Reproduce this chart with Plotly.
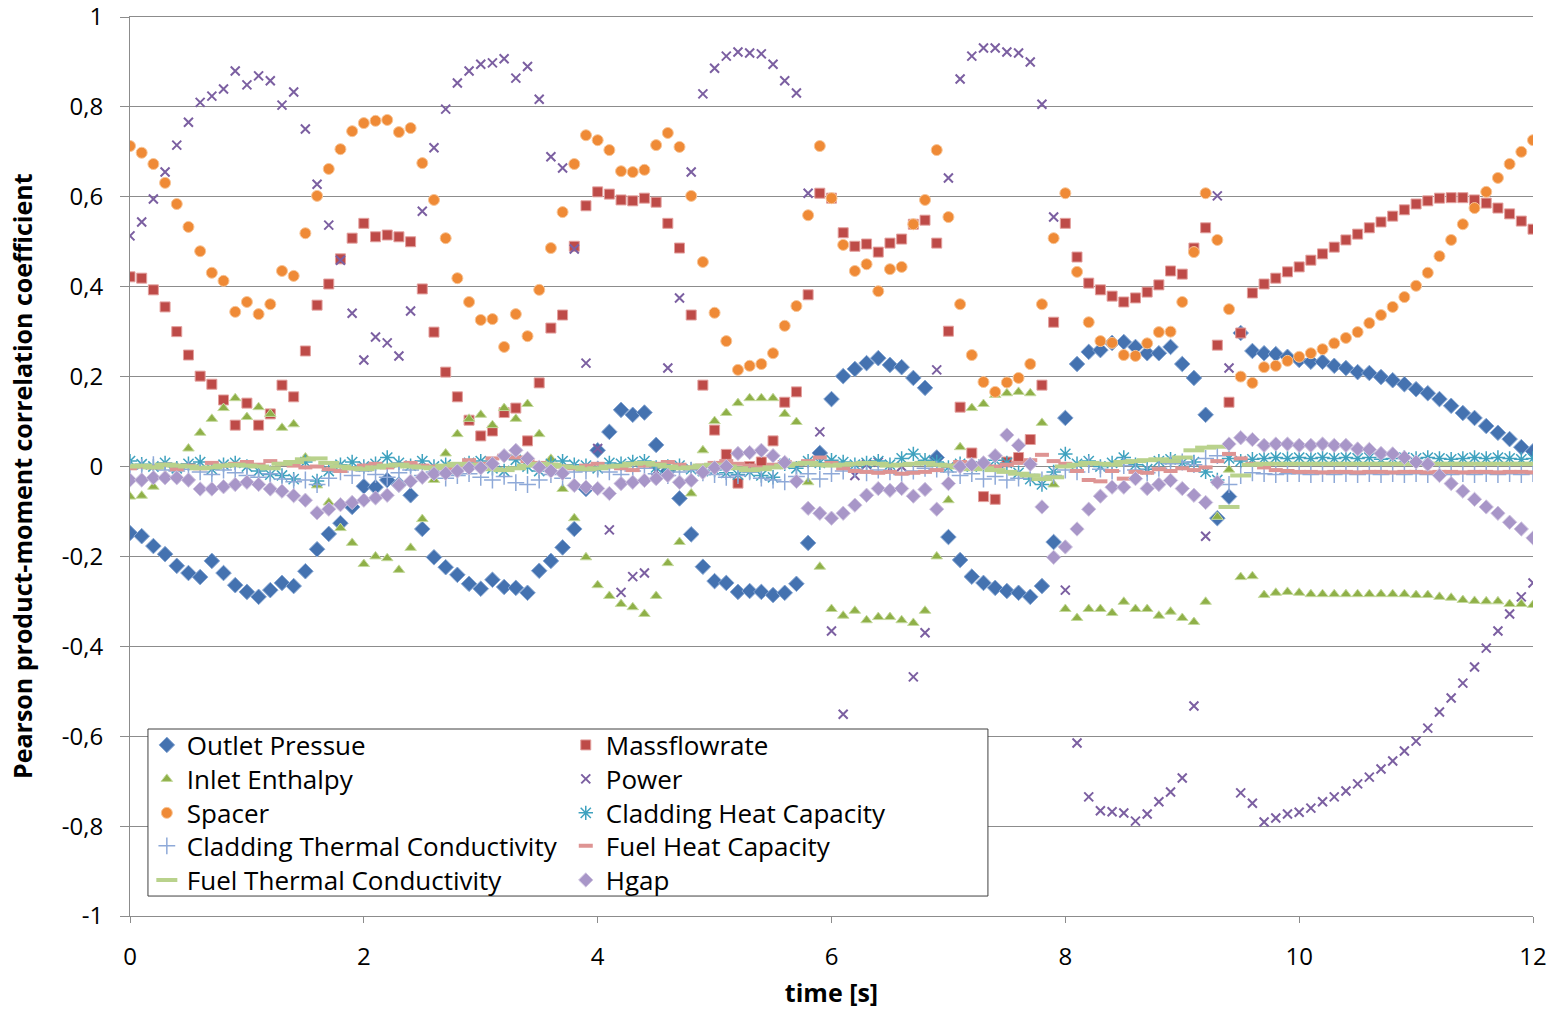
import plotly.graph_objects as go

# time axis: 0 .. 12 s in 0.1 s steps
time_s = [round(i * 0.1, 1) for i in range(121)]

outlet_pressure = [
    -0.148, -0.155, -0.177, -0.195, -0.221, -0.237, -0.246, -0.210, -0.237, -0.264,
    -0.279, -0.290, -0.275, -0.259, -0.266, -0.233, -0.184, -0.150, -0.126, -0.090,
    -0.044, -0.046, -0.030, -0.040, -0.064, -0.139, -0.202, -0.224, -0.241, -0.261,
    -0.272, -0.252, -0.268, -0.270, -0.281, -0.232, -0.210, -0.180, -0.139, -0.050,
    0.036, 0.077, 0.126, 0.115, 0.120, 0.048, -0.010, -0.071, -0.151, -0.223,
    -0.255, -0.259, -0.279, -0.277, -0.279, -0.286, -0.281, -0.261, -0.170, 0.030,
    0.150, 0.201, 0.217, 0.230, 0.241, 0.226, 0.221, 0.197, 0.175, 0.020,
    -0.157, -0.208, -0.245, -0.259, -0.270, -0.277, -0.281, -0.290, -0.266, -0.168,
    0.108, 0.228, 0.255, 0.259, 0.275, 0.277, 0.266, 0.252, 0.252, 0.266,
    0.228, 0.197, 0.115, -0.115, -0.067, 0.297, 0.257, 0.252, 0.250, 0.244,
    0.237, 0.233, 0.233, 0.224, 0.219, 0.210, 0.208, 0.199, 0.192, 0.183,
    0.172, 0.163, 0.150, 0.135, 0.119, 0.108, 0.090, 0.075, 0.061, 0.043, 0.034,
]

massflowrate = [
    0.422, 0.419, 0.393, 0.355, 0.300, 0.248, 0.201, 0.183, 0.148, 0.092,
    0.141, 0.092, 0.117, 0.181, 0.155, 0.257, 0.359, 0.406, 0.462, 0.508,
    0.541, 0.511, 0.515, 0.511, 0.500, 0.395, 0.299, 0.210, 0.155, 0.103,
    0.068, 0.079, 0.120, 0.130, 0.057, 0.186, 0.308, 0.337, 0.490, 0.580,
    0.611, 0.606, 0.593, 0.591, 0.597, 0.588, 0.541, 0.486, 0.337, 0.181,
    0.081, 0.027, -0.037, 0.000, 0.010, 0.057, 0.143, 0.166, 0.382, 0.608,
    0.597, 0.520, 0.490, 0.495, 0.477, 0.497, 0.506, 0.539, 0.548, 0.497,
    0.301, 0.132, 0.030, -0.067, -0.073, 0.010, 0.020, 0.060, 0.181, 0.321,
    0.541, 0.466, 0.408, 0.393, 0.379, 0.366, 0.375, 0.388, 0.404, 0.435,
    0.428, 0.486, 0.531, 0.270, 0.143, 0.297, 0.386, 0.406, 0.419, 0.433,
    0.444, 0.459, 0.473, 0.488, 0.504, 0.517, 0.531, 0.544, 0.557, 0.571,
    0.584, 0.591, 0.597, 0.598, 0.598, 0.593, 0.586, 0.575, 0.562, 0.546, 0.528,
]

inlet_enthalpy = [
    -0.067, -0.065, -0.045, -0.020, 0.000, 0.040, 0.075, 0.106, 0.130, 0.152,
    0.110, 0.132, 0.117, 0.086, 0.094, 0.020, -0.042, -0.080, -0.137, -0.170,
    -0.217, -0.200, -0.204, -0.230, -0.181, -0.117, -0.030, 0.029, 0.072, 0.106,
    0.115, 0.092, 0.130, 0.106, 0.139, 0.072, 0.017, -0.050, -0.115, -0.202,
    -0.264, -0.288, -0.306, -0.313, -0.328, -0.288, -0.215, -0.168, -0.060, 0.036,
    0.101, 0.119, 0.141, 0.152, 0.152, 0.152, 0.117, 0.099, -0.035, -0.223,
    -0.317, -0.332, -0.321, -0.342, -0.335, -0.335, -0.342, -0.348, -0.321, -0.200,
    -0.075, 0.043, 0.130, 0.139, 0.159, 0.163, 0.166, 0.163, 0.097, -0.040,
    -0.317, -0.337, -0.317, -0.317, -0.326, -0.301, -0.317, -0.317, -0.332, -0.323,
    -0.337, -0.346, -0.301, -0.112, -0.007, -0.246, -0.244, -0.286, -0.281, -0.279,
    -0.281, -0.284, -0.284, -0.284, -0.284, -0.284, -0.284, -0.284, -0.284, -0.284,
    -0.286, -0.286, -0.290, -0.292, -0.297, -0.299, -0.300, -0.300, -0.306, -0.306, -0.308,
]

power = [
    0.513, 0.544, 0.595, 0.655, 0.715, 0.766, 0.810, 0.824, 0.840, 0.880,
    0.849, 0.869, 0.858, 0.804, 0.833, 0.751, 0.628, 0.537, 0.459, 0.341,
    0.237, 0.288, 0.275, 0.246, 0.346, 0.568, 0.709, 0.795, 0.853, 0.880,
    0.895, 0.898, 0.907, 0.864, 0.890, 0.817, 0.689, 0.664, 0.484, 0.230,
    0.040, -0.141, -0.280, -0.245, -0.237, -0.010, 0.219, 0.375, 0.655, 0.829,
    0.886, 0.913, 0.922, 0.920, 0.918, 0.895, 0.858, 0.831, 0.608, 0.077,
    -0.366, -0.551, -0.020, 0.005, 0.010, -0.005, 0.000, -0.468, -0.370, 0.215,
    0.642, 0.862, 0.913, 0.931, 0.931, 0.922, 0.920, 0.900, 0.806, 0.555,
    -0.275, -0.615, -0.735, -0.766, -0.768, -0.771, -0.789, -0.773, -0.746, -0.724,
    -0.693, -0.533, -0.155, 0.602, 0.219, -0.726, -0.749, -0.791, -0.782, -0.773,
    -0.769, -0.760, -0.746, -0.735, -0.722, -0.706, -0.691, -0.673, -0.655, -0.633,
    -0.611, -0.582, -0.546, -0.515, -0.482, -0.446, -0.404, -0.366, -0.328, -0.290, -0.259,
]

spacer = [
    0.713, 0.698, 0.673, 0.631, 0.584, 0.533, 0.479, 0.431, 0.413, 0.344,
    0.366, 0.339, 0.361, 0.435, 0.424, 0.519, 0.602, 0.662, 0.706, 0.746,
    0.764, 0.769, 0.771, 0.744, 0.753, 0.675, 0.593, 0.508, 0.419, 0.366,
    0.326, 0.328, 0.266, 0.339, 0.290, 0.393, 0.486, 0.566, 0.673, 0.737,
    0.726, 0.704, 0.657, 0.655, 0.660, 0.715, 0.742, 0.711, 0.602, 0.455,
    0.342, 0.279, 0.215, 0.224, 0.228, 0.252, 0.313, 0.357, 0.559, 0.713,
    0.597, 0.493, 0.435, 0.450, 0.390, 0.439, 0.444, 0.539, 0.593, 0.704,
    0.555, 0.361, 0.248, 0.188, 0.166, 0.187, 0.197, 0.228, 0.361, 0.508,
    0.608, 0.433, 0.321, 0.279, 0.275, 0.248, 0.246, 0.274, 0.299, 0.300,
    0.366, 0.477, 0.608, 0.504, 0.350, 0.200, 0.186, 0.221, 0.224, 0.235,
    0.244, 0.252, 0.261, 0.274, 0.286, 0.299, 0.319, 0.337, 0.355, 0.377,
    0.402, 0.431, 0.468, 0.504, 0.539, 0.575, 0.611, 0.642, 0.673, 0.700, 0.726,
]

cladding_heat_capacity = [
    0.012, 0.005, 0.000, 0.008, -0.004, 0.006, 0.010, -0.006, 0.004, 0.008,
    0.000, -0.010, -0.018, -0.020, -0.028, 0.010, -0.032, -0.010, 0.004, 0.010,
    0.000, 0.006, 0.020, 0.008, 0.002, 0.012, 0.000, 0.004, -0.006, 0.008,
    0.012, -0.004, -0.010, 0.015, 0.000, -0.010, 0.006, 0.012, 0.004, 0.002,
    -0.004, 0.008, 0.006, 0.010, 0.012, -0.002, 0.000, 0.002, -0.006, -0.010,
    -0.008, -0.014, -0.018, -0.012, -0.020, -0.024, 0.006, -0.004, 0.012, 0.008,
    0.014, 0.010, 0.004, 0.008, 0.012, 0.004, 0.018, 0.028, 0.014, 0.010,
    -0.002, 0.006, 0.000, 0.004, 0.014, 0.008, -0.014, -0.028, -0.040, -0.012,
    0.028, 0.006, 0.012, 0.000, 0.008, 0.020, 0.004, -0.006, 0.012, 0.016,
    0.008, 0.010, -0.012, -0.030, 0.018, 0.012, 0.016, 0.018, 0.020, 0.018,
    0.020, 0.018, 0.020, 0.018, 0.020, 0.018, 0.020, 0.016, 0.018, 0.020,
    0.018, 0.020, 0.018, 0.016, 0.018, 0.020, 0.018, 0.020, 0.018, 0.016, 0.018,
]

cladding_thermal_conductivity = [
    -0.005, -0.002, 0.004, -0.008, -0.010, -0.006, -0.012, -0.018, -0.008, -0.014,
    -0.020, -0.024, -0.016, -0.028, -0.034, -0.030, -0.040, -0.026, -0.012, -0.020,
    -0.010, -0.018, -0.024, -0.014, -0.008, -0.020, -0.012, -0.026, -0.020, -0.016,
    -0.024, -0.030, -0.022, -0.036, -0.040, -0.030, -0.018, -0.026, -0.012, -0.010,
    -0.006, -0.012, -0.018, -0.010, -0.004, -0.016, -0.020, -0.012, -0.008, -0.014,
    -0.018, -0.024, -0.020, -0.012, -0.026, -0.030, -0.034, -0.022, -0.016, -0.028,
    -0.016, -0.010, -0.006, -0.014, -0.008, -0.012, -0.018, -0.010, -0.004, -0.006,
    -0.012, -0.020, -0.016, -0.028, -0.022, -0.030, -0.026, -0.018, -0.030, -0.020,
    -0.008, -0.012, 0.004, -0.006, -0.010, 0.002, -0.008, -0.014, -0.004, 0.006,
    0.010, 0.004, 0.018, 0.024, -0.040, -0.020, -0.014, -0.016, -0.018, -0.016,
    -0.016, -0.018, -0.016, -0.018, -0.016, -0.018, -0.016, -0.018, -0.016, -0.018,
    -0.016, -0.018, -0.016, -0.018, -0.016, -0.018, -0.016, -0.018, -0.016, -0.018, -0.016,
]

fuel_heat_capacity = [
    -0.004, 0.000, -0.002, 0.004, -0.006, 0.002, -0.004, 0.008, 0.002, 0.006,
    0.010, 0.004, 0.012, 0.006, 0.002, -0.002, 0.000, -0.006, -0.010, -0.004,
    0.002, 0.006, -0.002, 0.004, 0.008, 0.002, 0.000, -0.004, 0.002, 0.014,
    0.006, 0.018, 0.024, 0.020, 0.012, 0.008, 0.004, 0.000, -0.004, 0.002,
    0.006, 0.000, -0.004, -0.008, 0.002, 0.006, 0.010, 0.004, -0.002, 0.002,
    0.008, 0.012, 0.006, 0.002, -0.002, 0.004, 0.010, 0.006, 0.012, 0.020,
    0.008, -0.004, -0.010, -0.012, -0.014, -0.012, -0.016, -0.014, -0.012, -0.008,
    0.002, 0.010, 0.006, 0.002, 0.000, 0.004, 0.008, 0.014, 0.026, 0.012,
    0.006, -0.010, -0.030, -0.033, -0.010, -0.027, -0.012, -0.014, -0.006, -0.010,
    -0.004, -0.008, -0.002, 0.012, 0.028, 0.018, 0.006, -0.002, -0.008, -0.010,
    -0.012, -0.012, -0.013, -0.012, -0.012, -0.013, -0.012, -0.012, -0.013, -0.012,
    -0.012, -0.013, -0.012, -0.012, -0.013, -0.012, -0.012, -0.013, -0.012, -0.012, -0.013,
]

fuel_thermal_conductivity = [
    0.000, 0.002, -0.002, 0.004, 0.002, 0.000, -0.004, -0.002, 0.002, 0.004,
    0.002, 0.000, -0.004, 0.006, 0.010, 0.016, 0.018, 0.008, 0.000, -0.004,
    -0.006, -0.002, 0.002, 0.004, 0.000, -0.002, -0.004, 0.002, 0.006, 0.004,
    0.000, -0.006, -0.008, -0.004, 0.002, 0.006, 0.004, 0.000, -0.002, -0.006,
    -0.004, 0.000, 0.002, 0.006, 0.008, 0.004, 0.000, -0.004, -0.002, 0.002,
    0.004, 0.000, -0.004, -0.008, -0.006, -0.002, 0.002, 0.006, 0.008, 0.004,
    0.002, 0.004, 0.006, 0.008, 0.006, 0.002, 0.004, 0.006, 0.008, 0.004,
    0.002, -0.002, -0.006, -0.004, -0.008, -0.012, -0.016, -0.020, -0.028, -0.024,
    0.000, 0.004, 0.008, 0.006, 0.004, 0.010, 0.012, 0.014, 0.016, 0.012,
    0.020, 0.036, 0.042, 0.044, -0.090, -0.020, 0.004, 0.006, 0.006, 0.006,
    0.006, 0.006, 0.006, 0.006, 0.006, 0.006, 0.006, 0.006, 0.006, 0.006,
    0.006, 0.006, 0.006, 0.006, 0.006, 0.006, 0.006, 0.006, 0.006, 0.006, 0.006,
]

hgap = [
    -0.030, -0.030, -0.025, -0.025, -0.025, -0.030, -0.050, -0.050, -0.045, -0.040,
    -0.035, -0.040, -0.050, -0.055, -0.065, -0.075, -0.103, -0.095, -0.085, -0.080,
    -0.075, -0.070, -0.064, -0.042, -0.033, -0.024, -0.016, -0.015, -0.010, -0.003,
    -0.003, 0.006, 0.024, 0.036, 0.018, -0.002, -0.010, -0.015, -0.042, -0.046,
    -0.049, -0.060, -0.038, -0.035, -0.031, -0.027, -0.020, -0.035, -0.031, -0.013,
    -0.003, 0.000, 0.029, 0.031, 0.036, 0.024, 0.009, -0.033, -0.093, -0.104,
    -0.115, -0.104, -0.086, -0.064, -0.049, -0.053, -0.049, -0.066, -0.051, -0.095,
    -0.038, 0.000, 0.004, 0.008, 0.024, 0.070, 0.047, 0.005, -0.090, -0.202,
    -0.179, -0.139, -0.095, -0.066, -0.046, -0.046, -0.027, -0.049, -0.040, -0.031,
    -0.049, -0.064, -0.080, -0.035, 0.050, 0.064, 0.060, 0.047, 0.050, 0.050,
    0.047, 0.047, 0.050, 0.047, 0.047, 0.039, 0.038, 0.029, 0.028, 0.020,
    0.010, 0.005, -0.020, -0.038, -0.055, -0.073, -0.090, -0.104, -0.124, -0.139, -0.159,
]

y_tick_values = [1, 0.8, 0.6, 0.4, 0.2, 0, -0.2, -0.4, -0.6, -0.8, -1]
y_tick_labels = ["1", "0,8", "0,6", "0,4", "0,2", "0", "-0,2", "-0,4", "-0,6", "-0,8", "-1"]
x_tick_values = [0, 2, 4, 6, 8, 10, 12]
x_tick_labels = ["0", "2", "4", "6", "8", "10", "12"]

FONT = "Open Sans"
GRID = "#8c8c8c"

# legend grid: two columns, five rows (paper coordinates of each entry)
LEGEND_COL_X = [0.012, 0.3106]
LEGEND_ROW_Y = [0.1902, 0.1524, 0.1146, 0.0779, 0.0400]

# name, values, symbol, size, fill colour, edge colour, edge width
series = [
    ("Outlet Pressue", outlet_pressure, "diamond", 12, "#4472B0", "#86A6D2", 1),
    ("Massflowrate", massflowrate, "square", 10, "#BE4B48", "#E3A09E", 1),
    ("Inlet Enthalpy", inlet_enthalpy, "triangle-up", 10, "#8FB048", "#C5DA9E", 1),
    ("Power", power, "x-thin-open", 9, "#7B5FA1", "#7B5FA1", 2),
    ("Spacer", spacer, "circle", 11, "#EF8A36", "#F8C597", 1),
    ("Cladding Heat Capacity", cladding_heat_capacity, "asterisk-open", 12, "#3FA2BF", "#3FA2BF", 1.5),
    ("Cladding Thermal Conductivity", cladding_thermal_conductivity, "cross-thin-open", 12, "#8EA9D8", "#8EA9D8", 1.5),
    ("Fuel Heat Capacity", fuel_heat_capacity, "line-ew-open", 10, "#DE9493", "#DE9493", 4),
    ("Fuel Thermal Conductivity", fuel_thermal_conductivity, "line-ew-open", 15, "#B9D28C", "#B9D28C", 4),
    ("Hgap", hgap, "diamond", 11, "#A896C8", "#CFC4E0", 1),
]

fig = go.Figure()
legend_layouts = {}
for k, (name, values, symbol, size, fill, edge, edge_w) in enumerate(series):
    leg_id = "legend" if k == 0 else f"legend{k + 1}"
    fig.add_trace(go.Scatter(
        x=time_s,
        y=values,
        mode="markers",
        name=name,
        legend=leg_id,
        marker=dict(symbol=symbol, size=size, color=fill,
                    line=dict(color=edge, width=edge_w)),
    ))
    # entries fill the legend row by row, two per row
    legend_layouts[leg_id] = dict(
        x=LEGEND_COL_X[k % 2], y=LEGEND_ROW_Y[k // 2],
        xanchor="left", yanchor="middle",
        bgcolor="rgba(0,0,0,0)", borderwidth=0,
        font=dict(family=FONT, size=26, color="#000000"),
        itemwidth=30,
    )

# legend frame (white box hiding the gridlines behind it)
fig.add_shape(type="rect", xref="paper", yref="paper",
              x0=0.0128, x1=0.6115, y0=0.0222, y1=0.208,
              fillcolor="white", line=dict(color="#404040", width=1), layer="above")

fig.update_layout(
    width=1562, height=1009,
    margin=dict(l=130, r=29, t=17, b=93),
    paper_bgcolor="white", plot_bgcolor="white",
    font=dict(family=FONT, color="#000000"),
    showlegend=True,
    **legend_layouts,
    xaxis=dict(
        range=[0, 12], tickvals=x_tick_values, ticktext=x_tick_labels,
        automargin=False,
        showgrid=False, zeroline=False,
        showline=True, mirror=True, linecolor=GRID, linewidth=1,
        ticks="outside", ticklen=6, tickcolor=GRID,
        ticklabelstandoff=13, ticklabeloverflow="allow",
        tickfont=dict(family=FONT, size=24, color="#000000"),
        title=dict(text="<b>time [s]</b>", font=dict(family=FONT, size=25, color="#000000"), standoff=13),
    ),
    yaxis=dict(
        range=[-1, 1], tickvals=y_tick_values, ticktext=y_tick_labels,
        automargin=False,
        showgrid=True, gridcolor=GRID, gridwidth=1, zeroline=False,
        showline=True, linecolor=GRID, linewidth=1,
        ticks="outside", ticklen=9, tickcolor=GRID,
        ticklabelstandoff=12, ticklabeloverflow="allow",
        tickfont=dict(family=FONT, size=24, color="#000000"),
        title=dict(text="<b>Pearson product-moment correlation coefficient</b>&nbsp;&nbsp;&nbsp;",
                   font=dict(family=FONT, size=25, color="#000000"), standoff=22),
    ),
)

fig.write_html("out.html")
